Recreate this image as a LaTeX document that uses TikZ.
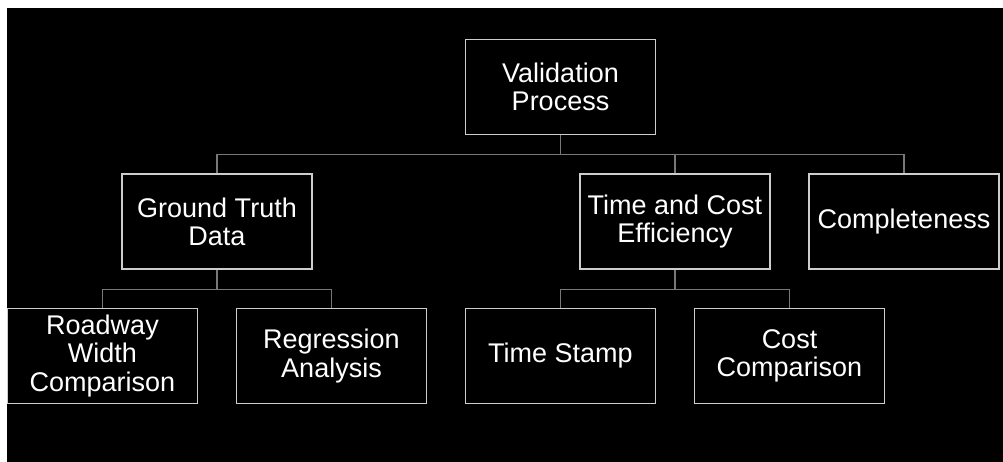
\documentclass[tikz,border=0pt]{standalone}
\usepackage{fontspec}
\setmainfont{Liberation Sans}
\usetikzlibrary{trees}
\definecolor{boxline}{RGB}{205,205,205}
\definecolor{forkline}{RGB}{120,120,120}
\begin{document}
\begin{tikzpicture}[every node/.style={rectangle,draw=boxline,line width=1.5pt,fill=black,text=white,
				minimum width=190pt,minimum height=95pt,inner sep=2pt,align=center,
				font=\fontsize{27pt}{28.3pt}\selectfont},
				level distance=134.5pt,
				sibling distance=229pt,
				edge from parent/.style={draw=forkline,line width=1.2pt},
				edge from parent path={(\tikzparentnode.south) -- +(0pt,-19.5pt) -| (\tikzchildnode.north)}]
\fill[white] (0pt,0pt) rectangle (1003pt,-462pt);
\fill[black] (7pt,-8pt) rectangle (1003pt,-462pt);
\node (valid) at (560.5pt,-87pt) {Validation\\Process}
child { node (truth) {Ground Truth\\Data}
	child { node (width) {Roadway\\Width\\Comparison} }
	child { node (regr) {Regression\\Analysis} }
	}
child[missing]
child { node (effic) {Time and Cost\\Efficiency}
	child { node (stamp) {Time Stamp} }
	child { node (cost) {Cost\\Comparison} }
	}
child { node (compl) {Completeness} };
\end{tikzpicture}
\end{document}
